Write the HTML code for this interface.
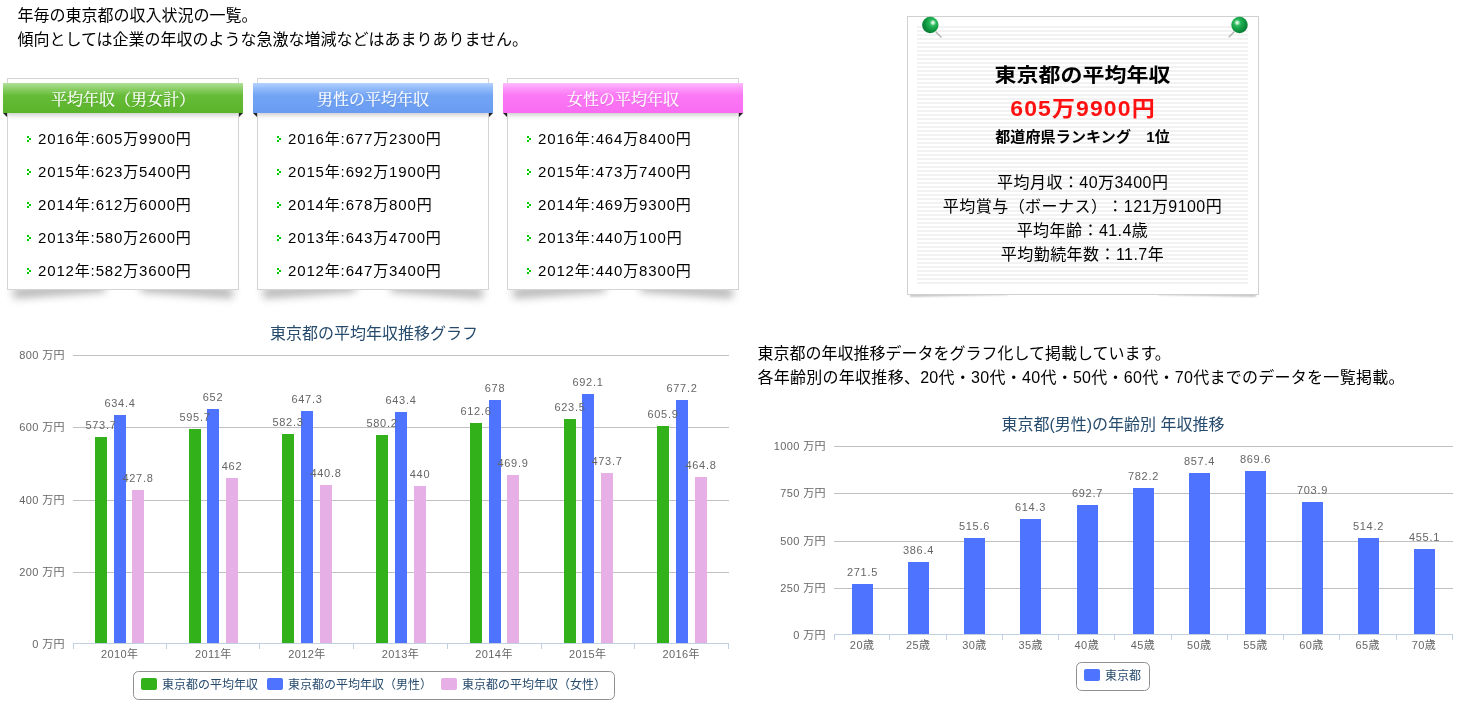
<!DOCTYPE html>
<html lang="ja">
<head>
<meta charset="utf-8">
<title>東京都の平均年収</title>
<style>
html{background:#fff;}html,body{margin:0;padding:0;}
body{text-spacing-trim:space-all;width:1468px;height:712px;overflow:hidden;font-family:"Liberation Sans","Noto Sans CJK JP",sans-serif;color:#000;}
#page{position:relative;width:1468px;height:712px;overflow:hidden;font-size:16px;line-height:24px;}
p{margin:0;}
.intro{position:absolute;left:17.4px;top:4px;white-space:nowrap;}
.desc{position:absolute;left:757.4px;top:342px;white-space:nowrap;}
.box{position:absolute;top:78px;width:230px;height:210px;border:1px solid #d4d4d4;background:#fff;}
.box:before,.box:after{content:"";position:absolute;z-index:-1;bottom:11px;width:40%;height:10px;box-shadow:0 17px 8px rgba(0,0,0,.3);}
.box:before{left:4px;transform:rotate(-4deg);}
.box:after{right:4px;transform:rotate(4deg);}
.box h3{position:absolute;left:-5px;top:4px;width:240px;height:30px;margin:0;padding:0;font:normal 16px/30px "Liberation Serif","Noto Serif CJK JP","Noto Serif CJK SC",serif;color:#fff;text-align:center;box-shadow:0 5px 5px -3px rgba(0,0,0,.22);}
.box h3 span{position:relative;top:2px;-webkit-text-stroke:0.2px #fff;text-shadow:0 1px 1px rgba(0,0,0,.12);}
.box h3:before,.box h3:after{content:"";position:absolute;top:30px;width:0;height:0;border-style:solid;}
.box h3:before{left:0;border-width:0 4px 4px 0;border-color:transparent #222 transparent transparent;}
.box h3:after{right:0;border-width:4px 4px 0 0;border-color:#222 transparent transparent transparent;}
.green h3{background:linear-gradient(#b0e098 0,#8ed06a 18%,#66bc38 42%,#5ab42a 100%);}
.blue h3{background:linear-gradient(#b4d2fd 0,#93bbf9 18%,#72a4f5 42%,#699cf2 100%);}
.pink h3{background:linear-gradient(#ffbcfd 0,#fd98f9 18%,#fb78f5 42%,#f96cf2 100%);}
.box ul{list-style:none;margin:0;padding:0;position:absolute;left:0;top:43px;}
.box li{position:relative;height:33px;line-height:33px;padding-left:30px;white-space:nowrap;font-size:15px;letter-spacing:.85px;}
.box li:before{content:"";position:absolute;left:19px;top:14px;width:2px;height:2px;background:#0c0;box-shadow:2px 2px 0 #0c0,0 4px 0 #0c0;}
.card{position:absolute;left:907px;top:16px;width:350px;height:277px;border:1px solid #d0d0d0;background:#fff;}
.card:before,.card:after{content:"";position:absolute;z-index:-1;bottom:3px;width:28%;height:6px;box-shadow:0 5px 2px rgba(0,0,0,.22);}
.card:before{left:2px;transform:rotate(-1.2deg);}
.card:after{right:2px;transform:rotate(1.2deg);}
.paper{position:absolute;left:9px;top:9px;width:331px;height:258px;background:repeating-linear-gradient(#f2f2f2 0,#f2f2f2 2px,#fff 2px,#fff 4px);text-align:center;}
.card h2{position:absolute;left:0;width:331px;top:34px;margin:0;font-size:22px;line-height:32px;font-weight:bold;transform:scale(1,.89);}
.card .red{position:absolute;left:0;width:331px;top:66px;font-size:23px;line-height:32px;font-weight:bold;color:#f11;letter-spacing:1.1px;text-indent:1.1px;transform:scaleY(.94);}
.desc .l2{letter-spacing:.28px;}
.card .rank{position:absolute;left:0;width:331px;top:99px;font-size:15px;line-height:24px;font-weight:bold;letter-spacing:.15px;}
.card .info{position:absolute;left:0;width:331px;top:145px;font-size:16px;line-height:24px;letter-spacing:.45px;text-indent:.45px;}
.pin{position:absolute;z-index:3;top:-3px;}
.pin.pl{left:10px;}
.pin.pr{left:316px;}
.chart{position:absolute;overflow:visible;}
.chart text{font-family:"Liberation Sans","Noto Sans CJK JP",sans-serif;}
.chart .ax text{font-size:11px;fill:#666;letter-spacing:.4px;}
.chart .dl text{font-size:11px;fill:#666;letter-spacing:0.7px;}
.chart .ttl{font-size:16px;fill:#274b6d;}
.chart .lg text{font-size:12px;fill:#274b6d;}

</style>
</head>
<body>
<div id="page">
<p class="intro">年毎の東京都の収入状況の一覧。<br>傾向としては企業の年収のような急激な増減などはあまりありません。</p>
<div class="box green" style="left:7px">
<h3><span>平均年収（男女計）</span></h3>
<ul>
<li>2016年:605万9900円</li>
<li>2015年:623万5400円</li>
<li>2014年:612万6000円</li>
<li>2013年:580万2600円</li>
<li>2012年:582万3600円</li>
</ul></div>
<div class="box blue" style="left:257px">
<h3><span>男性の平均年収</span></h3>
<ul>
<li>2016年:677万2300円</li>
<li>2015年:692万1900円</li>
<li>2014年:678万800円</li>
<li>2013年:643万4700円</li>
<li>2012年:647万3400円</li>
</ul></div>
<div class="box pink" style="left:507px">
<h3><span>女性の平均年収</span></h3>
<ul>
<li>2016年:464万8400円</li>
<li>2015年:473万7400円</li>
<li>2014年:469万9300円</li>
<li>2013年:440万100円</li>
<li>2012年:440万8300円</li>
</ul></div>
<div class="card">
<svg class="pin pl" width="28" height="28" viewBox="0 0 28 28"><defs><radialGradient id="pg1" cx="0.66" cy="0.36" r="0.75" fx="0.66" fy="0.36"><stop offset="0" stop-color="#ffffff"/><stop offset="0.09" stop-color="#c4f2cf"/><stop offset="0.26" stop-color="#2ab85c"/><stop offset="0.58" stop-color="#109a42"/><stop offset="1" stop-color="#067030"/></radialGradient></defs><path d="M18.2 18.2L23 23" stroke="#b4b4b4" stroke-width="1.6" stroke-linecap="round" fill="none"/><circle cx="12.3" cy="11" r="8.2" fill="url(#pg1)"/></svg>
<svg class="pin pr" width="28" height="28" viewBox="0 0 28 28"><defs><radialGradient id="pg2" cx="0.36" cy="0.36" r="0.75" fx="0.36" fy="0.36"><stop offset="0" stop-color="#ffffff"/><stop offset="0.09" stop-color="#c4f2cf"/><stop offset="0.26" stop-color="#2ab85c"/><stop offset="0.58" stop-color="#109a42"/><stop offset="1" stop-color="#067030"/></radialGradient></defs><path d="M9.8 18.2L5.2 22.8" stroke="#b4b4b4" stroke-width="1.6" stroke-linecap="round" fill="none"/><circle cx="15.5" cy="11" r="8.2" fill="url(#pg2)"/></svg>
<div class="paper">
<h2>東京都の平均年収</h2>
<div class="red">605万9900円</div>
<div class="rank">都道府県ランキング　1位</div>
<div class="info">平均月収：40万3400円<br>平均賞与（ボーナス）：121万9100円<br>平均年齢：41.4歳<br>平均勤続年数：11.7年</div>
</div>
</div>
<svg class="chart" style="left:0;top:310px" width="760" height="402" viewBox="0 310 760 402">
<path d="M73 355.5H729M73 427.5H729M73 500.5H729M73 572.5H729" stroke="#c0c0c0" stroke-width="1" fill="none"/>
<g fill="#33b11a">
<rect x="95" y="437" width="12" height="206"/>
<rect x="189" y="429" width="12" height="214"/>
<rect x="282" y="434" width="12" height="209"/>
<rect x="376" y="435" width="12" height="208"/>
<rect x="470" y="423" width="12" height="220"/>
<rect x="564" y="419" width="12" height="224"/>
<rect x="657" y="426" width="12" height="217"/>
</g>
<g fill="#4d73ff">
<rect x="114" y="415" width="12" height="228"/>
<rect x="207" y="409" width="12" height="234"/>
<rect x="301" y="411" width="12" height="232"/>
<rect x="395" y="412" width="12" height="231"/>
<rect x="489" y="400" width="12" height="243"/>
<rect x="582" y="394" width="12" height="249"/>
<rect x="676" y="400" width="12" height="243"/>
</g>
<g fill="#e6afe6">
<rect x="132" y="490" width="12" height="153"/>
<rect x="226" y="478" width="12" height="165"/>
<rect x="320" y="485" width="12" height="158"/>
<rect x="414" y="486" width="12" height="157"/>
<rect x="507" y="475" width="12" height="168"/>
<rect x="601" y="473" width="12" height="170"/>
<rect x="695" y="477" width="12" height="166"/>
</g>
<path d="M73 643.5H729M73.5 643v6M166.5 643v6M259.5 643v6M353.5 643v6M447.5 643v6M541.5 643v6M634.5 643v6M728.5 643v6" stroke="#c0d0e0" stroke-width="1" fill="none"/>
<g class="dl" text-anchor="middle">
<text x="101" y="428.5">573.7</text>
<text x="195" y="420.5">595.7</text>
<text x="288" y="425.5">582.3</text>
<text x="382" y="426.5">580.2</text>
<text x="476" y="414.5">612.6</text>
<text x="570" y="410.5">623.5</text>
<text x="663" y="417.5">605.9</text>
<text x="120" y="406.5">634.4</text>
<text x="213" y="400.5">652</text>
<text x="307" y="402.5">647.3</text>
<text x="401" y="403.5">643.4</text>
<text x="495" y="391.5">678</text>
<text x="588" y="385.5">692.1</text>
<text x="682" y="391.5">677.2</text>
<text x="138" y="481.5">427.8</text>
<text x="232" y="469.5">462</text>
<text x="326" y="476.5">440.8</text>
<text x="420" y="477.5">440</text>
<text x="513" y="466.5">469.9</text>
<text x="607" y="464.5">473.7</text>
<text x="701" y="468.5">464.8</text>
</g>
<g class="ax" text-anchor="middle">
<text x="119.79" y="658">2010年</text>
<text x="213.36" y="658">2011年</text>
<text x="306.93" y="658">2012年</text>
<text x="400.5" y="658">2013年</text>
<text x="494.07" y="658">2014年</text>
<text x="587.64" y="658">2015年</text>
<text x="681.21" y="658">2016年</text>
</g>
<g class="ax" text-anchor="end">
<text x="65" y="358.5">800 万円</text>
<text x="65" y="430.5">600 万円</text>
<text x="65" y="503.5">400 万円</text>
<text x="65" y="575.5">200 万円</text>
<text x="65" y="647.5">0 万円</text>
</g>
<text class="ttl" text-anchor="middle" x="374" y="339">東京都の平均年収推移グラフ</text>
<rect x="133.5" y="671.5" width="481" height="28" rx="5" ry="5" fill="#fff" stroke="#909090" stroke-width="1"/>
<g class="lg">
<rect x="141" y="678" width="16" height="12" rx="2" ry="2" fill="#33b11a"/>
<text x="162" y="689">東京都の平均年収</text>
<rect x="267" y="678" width="16" height="12" rx="2" ry="2" fill="#4d73ff"/>
<text x="288" y="689">東京都の平均年収（男性）</text>
<rect x="441" y="678" width="16" height="12" rx="2" ry="2" fill="#e6afe6"/>
<text x="462" y="689">東京都の平均年収（女性）</text>
</g>
</svg>
<p class="desc">東京都の年収推移データをグラフ化して掲載しています。<br><span class="l2">各年齢別の年収推移、20代・30代・40代・50代・60代・70代までのデータを一覧掲載。</span></p>
<svg class="chart" style="left:760px;top:400px" width="708" height="312" viewBox="760 400 708 312">
<path d="M834 446.5H1453M834 493.5H1453M834 541.5H1453M834 588.5H1453" stroke="#c0c0c0" stroke-width="1" fill="none"/>
<g fill="#4d73ff">
<rect x="852" y="584" width="21" height="50"/>
<rect x="908" y="562" width="21" height="72"/>
<rect x="964" y="538" width="21" height="96"/>
<rect x="1020" y="519" width="21" height="115"/>
<rect x="1077" y="505" width="21" height="129"/>
<rect x="1133" y="488" width="21" height="146"/>
<rect x="1189" y="473" width="21" height="161"/>
<rect x="1245" y="471" width="21" height="163"/>
<rect x="1302" y="502" width="21" height="132"/>
<rect x="1358" y="538" width="21" height="96"/>
<rect x="1414" y="549" width="21" height="85"/>
</g>
<path d="M834 634.5H1453M834.5 634v6M889.5 634v6M946.5 634v6M1002.5 634v6M1058.5 634v6M1114.5 634v6M1171.5 634v6M1227.5 634v6M1283.5 634v6M1339.5 634v6M1396.5 634v6M1452.5 634v6" stroke="#c0d0e0" stroke-width="1" fill="none"/>
<g class="dl" text-anchor="middle">
<text x="862.5" y="575.5">271.5</text>
<text x="918.5" y="553.5">386.4</text>
<text x="974.5" y="529.5">515.6</text>
<text x="1030.5" y="510.5">614.3</text>
<text x="1087.5" y="496.5">692.7</text>
<text x="1143.5" y="479.5">782.2</text>
<text x="1199.5" y="464.5">857.4</text>
<text x="1255.5" y="462.5">869.6</text>
<text x="1312.5" y="493.5">703.9</text>
<text x="1368.5" y="529.5">514.2</text>
<text x="1424.5" y="540.5">455.1</text>
</g>
<g class="ax" text-anchor="middle">
<text x="862.09" y="649">20歳</text>
<text x="918.27" y="649">25歳</text>
<text x="974.45" y="649">30歳</text>
<text x="1030.64" y="649">35歳</text>
<text x="1086.82" y="649">40歳</text>
<text x="1143" y="649">45歳</text>
<text x="1199.18" y="649">50歳</text>
<text x="1255.36" y="649">55歳</text>
<text x="1311.55" y="649">60歳</text>
<text x="1367.73" y="649">65歳</text>
<text x="1423.91" y="649">70歳</text>
</g>
<g class="ax" text-anchor="end">
<text x="826" y="449.5">1000 万円</text>
<text x="826" y="496.5">750 万円</text>
<text x="826" y="544.5">500 万円</text>
<text x="826" y="591.5">250 万円</text>
<text x="826" y="638.5">0 万円</text>
</g>
<text class="ttl" text-anchor="middle" x="1113" y="430">東京都(男性)の年齢別 年収推移</text>
<rect x="1076.5" y="662.5" width="73" height="28" rx="5" ry="5" fill="#fff" stroke="#909090" stroke-width="1"/>
<g class="lg">
<rect x="1084" y="669" width="16" height="12" rx="2" ry="2" fill="#4d73ff"/>
<text x="1105" y="680">東京都</text>
</g>
</svg>
</div>
</body>
</html>
